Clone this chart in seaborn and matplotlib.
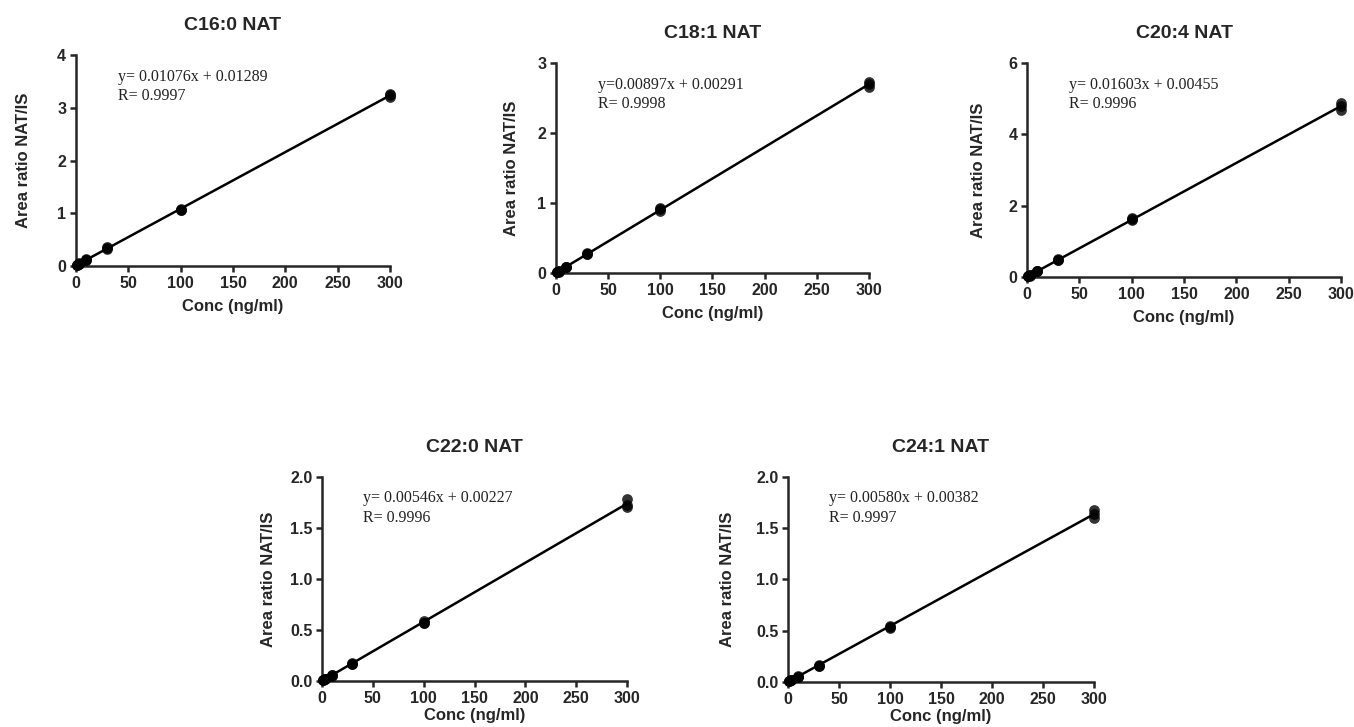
import matplotlib
matplotlib.use("Agg")
import matplotlib.pyplot as plt
import pandas as pd
import seaborn as sns

# calibration levels (ng/ml), three replicates each
CONC = [1, 1, 1, 3, 3, 3, 10, 10, 10, 30, 30, 30, 100, 100, 100, 300, 300, 300]

TITLES = ["C16:0 NAT", "C18:1 NAT", "C20:4 NAT", "C22:0 NAT", "C24:1 NAT"]

C16_0 = [0.02, 0.02, 0.01, 0.05, 0.04, 0.04, 0.13, 0.12, 0.12,
         0.36, 0.34, 0.33, 1.09, 1.07, 1.06, 3.27, 3.24, 3.20]
C18_1 = [0.01, 0.01, 0.01, 0.03, 0.03, 0.02, 0.09, 0.09, 0.08,
         0.28, 0.27, 0.27, 0.93, 0.91, 0.89, 2.73, 2.70, 2.65]
C20_4 = [0.02, 0.02, 0.02, 0.05, 0.05, 0.04, 0.17, 0.16, 0.16,
         0.50, 0.48, 0.47, 1.64, 1.62, 1.60, 4.88, 4.80, 4.68]
C22_0 = [0.01, 0.01, 0.01, 0.02, 0.02, 0.02, 0.06, 0.06, 0.05,
         0.18, 0.17, 0.17, 0.59, 0.57, 0.57, 1.78, 1.73, 1.71]
C24_1 = [0.01, 0.01, 0.01, 0.02, 0.02, 0.02, 0.06, 0.05, 0.05,
         0.17, 0.16, 0.16, 0.55, 0.54, 0.53, 1.68, 1.64, 1.60]
SERIES = [C16_0, C18_1, C20_4, C22_0, C24_1]

EQUATIONS = ["y= 0.01076x + 0.01289", "y=0.00897x + 0.00291", "y= 0.01603x + 0.00455",
             "y= 0.00546x + 0.00227", "y= 0.00580x + 0.00382"]
R_LABELS = ["R= 0.9997", "R= 0.9998", "R= 0.9996", "R= 0.9996", "R= 0.9997"]

Y_MAX = [4, 3, 6, 2.0, 2.0]
Y_TICKS = [[0, 1, 2, 3, 4], [0, 1, 2, 3], [0, 2, 4, 6],
           [0.0, 0.5, 1.0, 1.5, 2.0], [0.0, 0.5, 1.0, 1.5, 2.0]]
Y_FMT = ["{:.0f}", "{:.0f}", "{:.0f}", "{:.1f}", "{:.1f}"]
X_TICKS = [0, 50, 100, 150, 200, 250, 300]

# axes boxes in figure fractions (left, bottom, width, height)
BOXES = [
    (0.0561, 0.6341, 0.2319, 0.2902),
    (0.4106, 0.6245, 0.2312, 0.2889),
    (0.7585, 0.6190, 0.2319, 0.2944),
    (0.2378, 0.0633, 0.2253, 0.2806),
    (0.5820, 0.0619, 0.2260, 0.2820),
]
YLABEL_PAD = [19, 13, 16, 10, 15]
XLABEL_PAD = [6, 6, 6, 2, 2]

sns.set_style("ticks")
plt.rcParams["font.family"] = ["Liberation Sans", "DejaVu Sans"]
plt.rcParams["font.weight"] = "bold"

fig = plt.figure(figsize=(13.54, 7.27), dpi=100)

for i in range(5):
    ax = fig.add_axes(BOXES[i])
    df = pd.DataFrame({"Conc": CONC, "Ratio": SERIES[i]})

    # points + least-squares calibration line, extended over the axis
    sns.regplot(data=df, x="Conc", y="Ratio", ax=ax, ci=None, truncate=False,
                color="black",
                scatter_kws={"s": 60, "linewidths": 0, "zorder": 3, "clip_on": False},
                line_kws={"linewidth": 1.8})

    ax.set_xlim(0, 300)
    ax.set_ylim(0, Y_MAX[i])
    ax.set_xticks(X_TICKS)
    ax.set_yticks(Y_TICKS[i])
    ax.set_yticklabels([Y_FMT[i].format(t) for t in Y_TICKS[i]])
    ax.tick_params(axis="both", labelsize=11.5, width=1.8, length=4, pad=3)
    for lab in ax.get_xticklabels() + ax.get_yticklabels():
        lab.set_fontweight("bold")

    ax.set_xlabel("Conc (ng/ml)", fontsize=12, fontweight="bold",
                  labelpad=XLABEL_PAD[i])
    ax.set_ylabel("Area ratio NAT/IS", fontsize=12, fontweight="bold",
                  labelpad=YLABEL_PAD[i])
    ax.set_title(TITLES[i], fontsize=14, fontweight="bold", pad=18)

    for side in ["left", "bottom"]:
        ax.spines[side].set_linewidth(1.8)
    sns.despine(ax=ax)

    ax.text(0.135, 0.935, EQUATIONS[i] + "\n" + R_LABELS[i], transform=ax.transAxes,
            fontsize=11.5, family=["Liberation Serif", "DejaVu Serif"],
            fontweight="normal", va="top", ha="left", linespacing=1.3, color="#222222")

fig.savefig("out.png", dpi=100)
